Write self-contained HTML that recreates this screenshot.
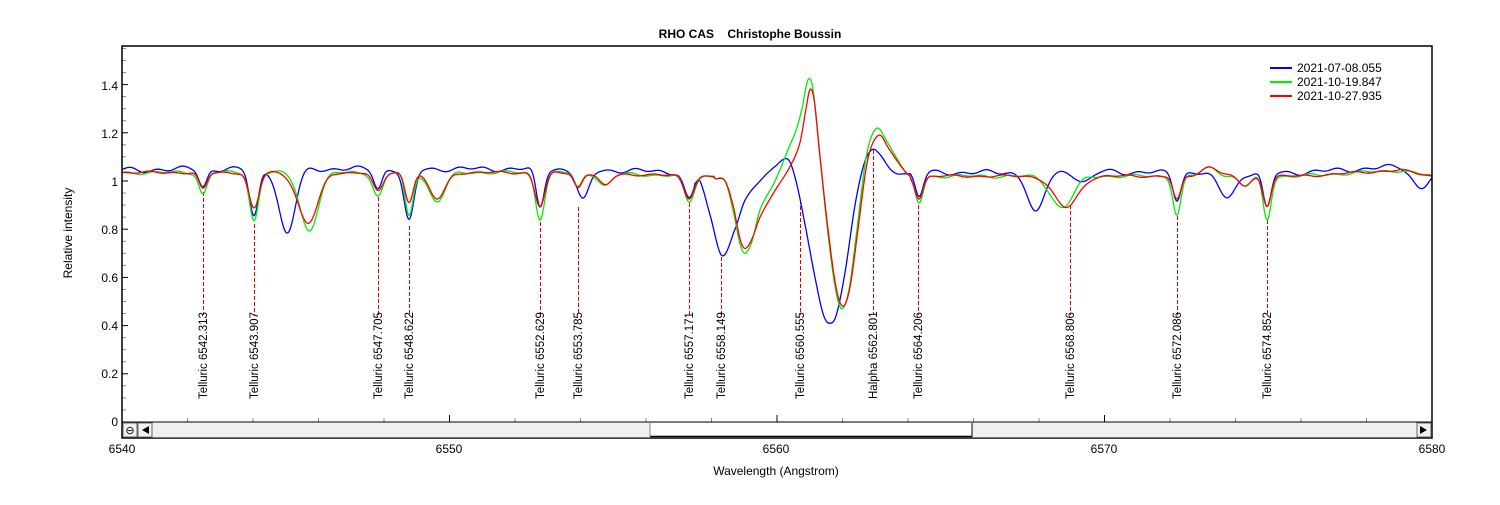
<!DOCTYPE html>
<html><head><meta charset="utf-8"><style>
body{margin:0;background:#fff;}
svg text{font-family:"Liberation Sans",Arial,sans-serif;}
</style></head><body>
<svg id="s" width="1500" height="500" xmlns="http://www.w3.org/2000/svg">
<rect width="1500" height="500" fill="#fff"/>
<text x="750" y="38" font-size="12" font-weight="bold" text-anchor="middle">RHO CAS&#160;&#160;&#160; Christophe Boussin</text>
<text x="776" y="475" font-size="12" text-anchor="middle">Wavelength (Angstrom)</text>
<text transform="translate(72,233) rotate(-90)" font-size="12" text-anchor="middle">Relative intensity</text>
<g id="ax"></g>
<g id="marks"></g>
<g id="curves" fill="none" stroke-width="1.3"></g>
<rect x="122" y="46" width="1310" height="392" fill="none" stroke="#000" stroke-width="1.5"/>
<rect x="122" y="422" width="1310" height="16" fill="#f0f0f0" stroke="#000" stroke-width="1"/>
<rect x="650" y="423" width="322" height="13" fill="#fff"/>
<line x1="650" y1="436.5" x2="972" y2="436.5" stroke="#000" stroke-width="1.5"/>
<line x1="650" y1="423" x2="650" y2="437" stroke="#888"/>
<line x1="972" y1="423" x2="972" y2="437" stroke="#000"/>
<rect x="123" y="423" width="14" height="14" fill="#f0f0f0" stroke="#666"/>
<text x="130" y="434" font-size="11" text-anchor="middle">⊖</text>
<rect x="138" y="423" width="14" height="14" fill="#f0f0f0" stroke="#666"/>
<path d="M142 430 L149 426 L149 434Z" fill="#000"/>
<rect x="1417" y="423" width="14" height="14" fill="#f0f0f0" stroke="#666"/>
<path d="M1427 430 L1420 426 L1420 434Z" fill="#000"/>
<g font-size="12" text-anchor="middle">
<text x="122" y="453">6540</text><text x="449" y="453">6550</text><text x="776" y="453">6560</text><text x="1104" y="453">6570</text><text x="1432" y="453">6580</text>
</g>
<g font-size="12" text-anchor="end">
<text x="118" y="426">0</text><text x="118" y="378">0.2</text><text x="118" y="330">0.4</text><text x="118" y="282">0.6</text><text x="118" y="234">0.8</text><text x="118" y="186">1</text><text x="118" y="138">1.2</text><text x="118" y="90">1.4</text>
</g>
<g font-size="12" transform="translate(1270,0)">
<line x1="0" y1="68" x2="22" y2="68" stroke="#0000ff" stroke-width="2"/><text x="27" y="72">2021-07-08.055</text>
<line x1="0" y1="82" x2="22" y2="82" stroke="#00ee00" stroke-width="2"/><text x="27" y="86">2021-10-19.847</text>
<line x1="0" y1="96" x2="22" y2="96" stroke="#ff0000" stroke-width="2"/><text x="27" y="100">2021-10-27.935</text>
</g>
</svg>
<script>
var NS="http://www.w3.org/2000/svg";
function el(p,t,a,txt){var e=document.createElementNS(NS,t);for(var k in a)e.setAttribute(k,a[k]);if(txt)e.textContent=txt;p.appendChild(e);return e;}
var ax=document.getElementById('ax');
function Y(v){return 422-241*v;}
for(var w=6540;w<=6580;w+=2){var x=122+(w-6540)*32.75;var maj=(w%10==0);el(ax,'line',{x1:x,y1:422,x2:x,y2:422-(maj?7:4),stroke:maj?'#000':'#888'});}
for(var i=0;i<=31;i++){var v=i*0.05;var y=Y(v);var maj=(i%4==0);el(ax,'line',{x1:122,y1:y,x2:122+(maj?6:4),y2:y,stroke:maj?'#000':'#888'});}
function gsum(x,gs){var s=0;for(var i=0;i<gs.length;i++){var g=gs[i];s+=g[1]*Math.exp(-Math.pow((x-g[0])/g[2],2)/2);}return s;}
function interp(x,p){for(var i=0;i<p.length-1;i++){if(x>=p[i][0]&&x<=p[i+1][0]){var p0=p[Math.max(0,i-1)],p1=p[i],p2=p[i+1],p3=p[Math.min(p.length-1,i+2)];var t=(x-p1[0])/(p2[0]-p1[0]);
var m1=(p2[1]-p0[1])/(p2[0]-p0[0]||1)*(p2[0]-p1[0]),m2=(p3[1]-p1[1])/(p3[0]-p1[0]||1)*(p2[0]-p1[0]);
var t2=t*t,t3=t2*t;return (2*t3-3*t2+1)*p1[1]+(t3-2*t2+t)*m1+(-2*t3+3*t2)*p2[1]+(t3-t2)*m2;}}return null;}
function base(x){if(x<560)return 1.035;if(x<700)return 1.035-0.015*(x-560)/140;if(x<1300)return 1.02;if(x<1400)return 1.02+0.025*(x-1300)/100;return 1.045-0.025*(x-1400)/32;}
var S=[
{c:'#0000ff',n:0.006,off:0.015,
 g:[[140,-0.01,8],[203,-0.075,4],[254,-0.2,4.5],[287,-0.27,8],[378,-0.08,4],[409,-0.22,5],[540,-0.16,4],[583,-0.13,6],[689,-0.11,5],[919,-0.1,4],[1036,-0.17,8],[1085,-0.05,8],[1177,-0.11,4],[1227,-0.1,9],[1267,-0.15,4],[1420,-0.07,8],[1090,0.01,20]],
 p:[[695,0.99],[700,1.0],[710,0.86],[722,0.69],[735,0.8],[745,0.92],[760,1.0],[775,1.06],[788,1.09],[796,1.0],[805,0.82],[815,0.6],[823,0.45],[829,0.41],[836,0.44],[845,0.62],[855,0.9],[864,1.07],[872,1.13],[880,1.11],[890,1.05],[897,1.03],[905,1.03],[910,1.03]]},
{c:'#00ee00',n:0.004,off:0,
 g:[[203,-0.09,4],[254,-0.2,4.5],[309,-0.24,9],[378,-0.1,5],[409,-0.18,4],[437,-0.12,8],[540,-0.19,4.5],[578,-0.06,4],[605,-0.05,6],[689,-0.11,5],[919,-0.11,4],[1062,-0.13,11],[1177,-0.16,4],[1210,0.035,8],[1245,-0.04,6],[1267,-0.18,4]],
 p:[[715,1.01],[725,1.0],[733,0.88],[740,0.74],[745,0.70],[752,0.75],[760,0.88],[775,1.0],[790,1.15],[796,1.21],[802,1.30],[808,1.42],[813,1.38],[820,1.1],[828,0.78],[836,0.54],[842,0.47],[849,0.55],[857,0.8],[865,1.07],[871,1.18],[878,1.22],[886,1.17],[896,1.1],[905,1.04],[910,1.02]]},
{c:'#ff0000',n:0.003,off:0,
 g:[[203,-0.07,4],[254,-0.15,5],[308,-0.21,10],[378,-0.08,5],[409,-0.12,4],[437,-0.11,8],[540,-0.14,5],[578,-0.06,4],[605,-0.05,6],[689,-0.09,5],[919,-0.09,4],[1066,-0.13,12],[1177,-0.1,4],[1210,0.04,8],[1245,-0.04,6],[1267,-0.12,4]],
 p:[[715,1.01],[725,1.0],[733,0.9],[740,0.76],[745,0.72],[752,0.76],[760,0.85],[775,0.96],[790,1.06],[800,1.16],[806,1.30],[810,1.38],[814,1.34],[820,1.1],[828,0.8],[836,0.56],[843,0.48],[850,0.56],[858,0.8],[866,1.05],[872,1.15],[880,1.19],[888,1.14],[896,1.09],[905,1.04],[910,1.02]]}
];
var cg=document.getElementById('curves');
S.forEach(function(s,k){var d='';for(var x=122;x<=1432;x+=1){var v=interp(x,s.p);if(v===null){v=base(x)+s.off+gsum(x,s.g)+s.n*(Math.sin(x*0.25+k)+Math.sin(x*0.11+2*k));}
d+=(x==122?'M':'L')+x+' '+Y(v).toFixed(1);}el(cg,'path',{d:d,stroke:s.c});});
var M=[[203,192,'Telluric 6542.313'],[254,224,'Telluric 6543.907'],[378,197,'Telluric 6547.705'],[409,226,'Telluric 6548.622'],[540,222,'Telluric 6552.629'],[578,207,'Telluric 6553.785'],[689,203,'Telluric 6557.171'],[721,257,'Telluric 6558.149'],[800,200,'Telluric 6560.555'],[873,150,'Halpha 6562.801'],[918,205,'Telluric 6564.206'],[1070,205,'Telluric 6568.806'],[1177,216,'Telluric 6572.086'],[1267,220,'Telluric 6574.852']];
var mg=document.getElementById('marks');
M.forEach(function(m){el(mg,'line',{x1:m[0]+0.5,y1:m[1],x2:m[0]+0.5,y2:315,stroke:'#e00000','stroke-dasharray':'4,2'});
el(mg,'text',{transform:'translate('+(m[0]+4)+',399) rotate(-90)','font-size':'11.5'},m[2]);});
</script>
</body></html>
